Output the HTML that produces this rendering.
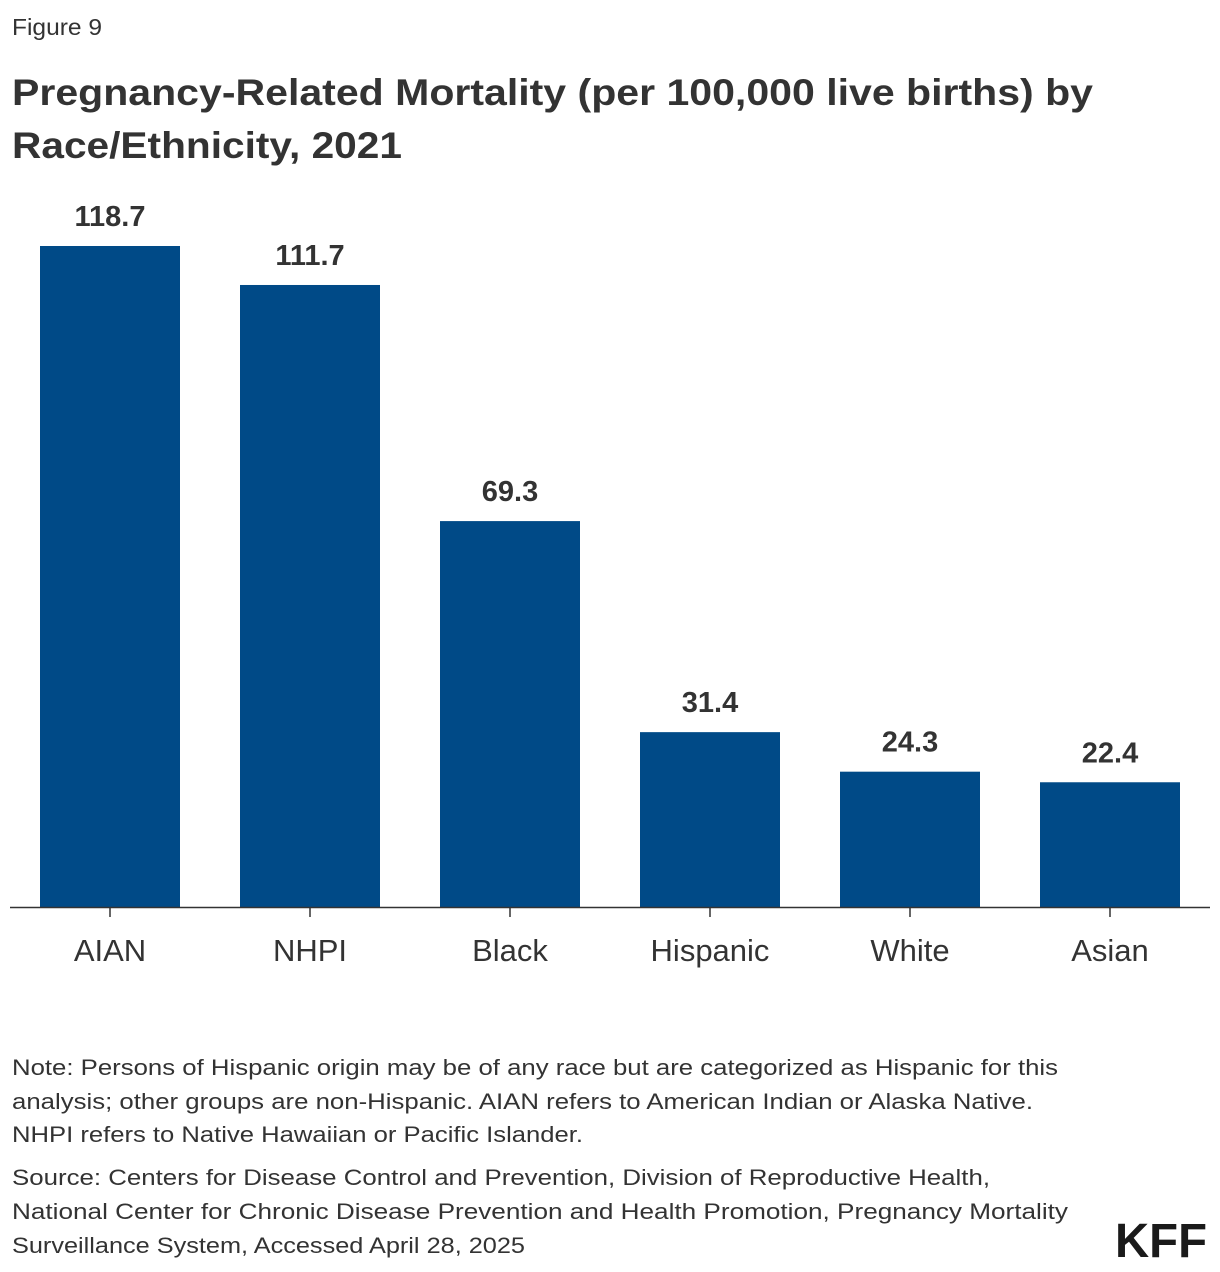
<!DOCTYPE html>
<html><head><meta charset="utf-8"><style>
body{margin:0;background:#fff;}
svg{display:block;font-family:"Liberation Sans",sans-serif;}
</style></head><body>
<svg width="1220" height="1272" viewBox="0 0 1220 1272">
<text x="12" y="35" font-size="23" fill="#333" textLength="90" lengthAdjust="spacingAndGlyphs">Figure 9</text>
<text x="12" y="105" font-size="37" font-weight="bold" fill="#333" textLength="1081" lengthAdjust="spacingAndGlyphs">Pregnancy-Related Mortality (per 100,000 live births) by</text>
<text x="12" y="158" font-size="37" font-weight="bold" fill="#333" textLength="390" lengthAdjust="spacingAndGlyphs">Race/Ethnicity, 2021</text>
<g id="plot"></g>
<line x1="10" y1="907.5" x2="1210" y2="907.5" stroke="#333" stroke-width="1.5"/>
<g font-size="22" fill="#333">
<text x="12" y="1075" textLength="1046" lengthAdjust="spacingAndGlyphs">Note: Persons of Hispanic origin may be of any race but are categorized as Hispanic for this</text>
<text x="12" y="1109" textLength="1021" lengthAdjust="spacingAndGlyphs">analysis; other groups are non-Hispanic. AIAN refers to American Indian or Alaska Native.</text>
<text x="12" y="1142" textLength="571" lengthAdjust="spacingAndGlyphs">NHPI refers to Native Hawaiian or Pacific Islander.</text>
</g>
<g font-size="22" fill="#333">
<text x="12" y="1185" textLength="978" lengthAdjust="spacingAndGlyphs">Source: Centers for Disease Control and Prevention, Division of Reproductive Health,</text>
<text x="12" y="1219" textLength="1056" lengthAdjust="spacingAndGlyphs">National Center for Chronic Disease Prevention and Health Promotion, Pregnancy Mortality</text>
<text x="12" y="1253" textLength="513" lengthAdjust="spacingAndGlyphs">Surveillance System, Accessed April 28, 2025</text>
</g>
<text x="1115" y="1257" font-size="48" font-weight="bold" fill="#1a1a1a" textLength="92" lengthAdjust="spacingAndGlyphs">KFF</text>
</svg>
<script>
const categories=["AIAN","NHPI","Black","Hispanic","White","Asian"];
const values=[118.7,111.7,69.3,31.4,24.3,22.4];
const valueLabels=["118.7","111.7","69.3","31.4","24.3","22.4"];
const NS="http://www.w3.org/2000/svg";
const g=document.getElementById('plot');
const base=907, pxPerUnit=661/118.7, step=200, x0=110, bw=140;
const y=v=>base-v*pxPerUnit;
const xc=i=>x0+i*step;
function mk(t,a){const e=document.createElementNS(NS,t);for(const k in a)e.setAttribute(k,a[k]);g.appendChild(e);return e;}
categories.forEach((c,i)=>{
  const r=mk('rect',{x:xc(i)-bw/2,y:y(values[i]),width:bw,height:base-y(values[i]),fill:'#004a87'});
  
  
  const t=mk('text',{x:xc(i),y:y(values[i])-20,'text-anchor':'middle','font-size':29,'font-weight':'bold',fill:'#333'});
  t.textContent=valueLabels[i];
  
  
  const tk=mk('line',{x1:xc(i),x2:xc(i),y1:base,y2:base+10,stroke:'#333','stroke-width':1.5});
  
  
  const l=mk('text',{x:xc(i),y:961,'text-anchor':'middle','font-size':31,fill:'#333'});
  l.textContent=c;
  
  
});
</script>
</body></html>
